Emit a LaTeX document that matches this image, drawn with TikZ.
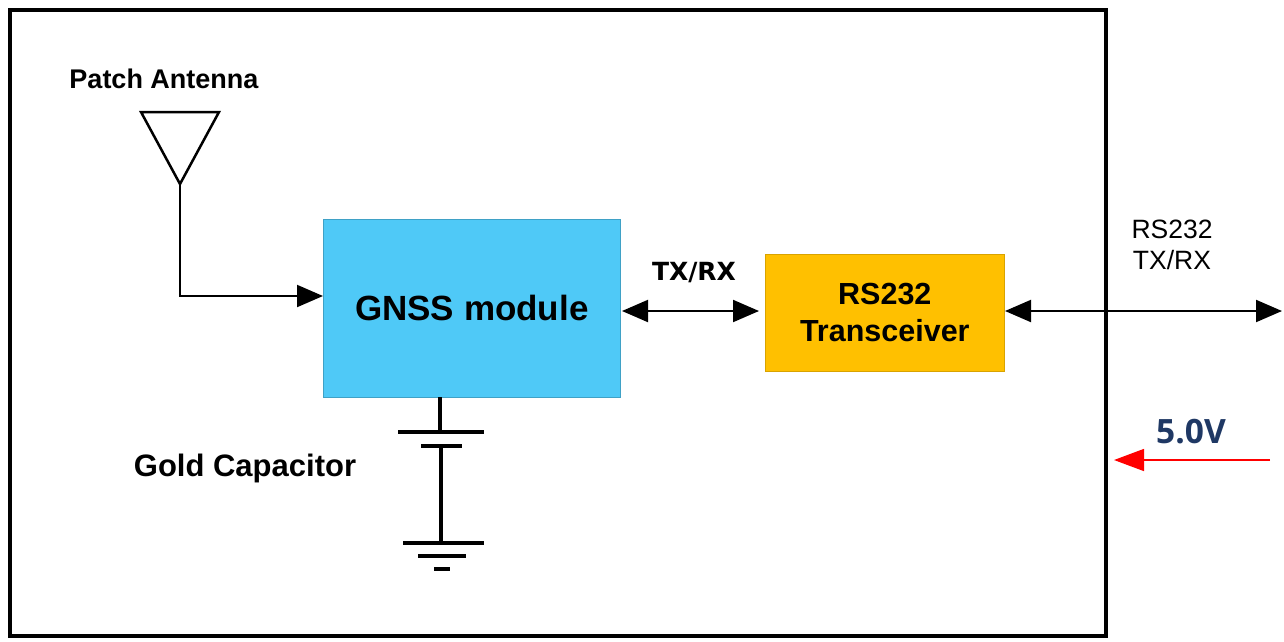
\documentclass[tikz,border=0pt]{standalone}
\usepackage{fontspec}
\setmainfont{Liberation Sans}
\newfontfamily\vfont{Open Sans}
\newfontfamily\wfont{DejaVu Sans}
\usetikzlibrary{arrows.meta}
\definecolor{gnssblue}{HTML}{4FC9F7}
\definecolor{rsgold}{HTML}{FFC000}
\definecolor{navy}{HTML}{1F3864}
\tikzset{
  wire/.style={line width=3.5pt,line cap=butt},
  sig/.style={line width=2pt,{Triangle[length=26pt,width=22pt]}-{Triangle[length=26pt,width=22pt]}},
  feed/.style={line width=2pt,-{Triangle[length=26pt,width=22pt]}},
  block/.style={inner sep=0pt,font=\bfseries},
  lbl/.style={inner sep=0pt,align=center}
}
\begin{document}
\begin{tikzpicture}[x=1pt,y=-1pt]
\useasboundingbox (0,0) rectangle (1284,641);
% outer frame
\draw[line width=4pt] (10,10) rectangle (1106,636);
% blocks
\node[block,fill=gnssblue,draw=gnssblue!80!black,line width=0.6pt,minimum width=297pt,minimum height=178pt,anchor=north west,font=\fontsize{35}{38}\selectfont\bfseries] (gnss) at (323,219) {GNSS module};
\node[block,fill=rsgold,draw=rsgold!85!black,line width=0.6pt,minimum width=239pt,minimum height=117pt,anchor=north west,align=center,font=\fontsize{30.5}{37}\selectfont\bfseries] (rs) at (765,254) {RS232\\Transceiver};
% antenna
\node[lbl,font=\fontsize{27}{30}\selectfont\bfseries] (antlbl) at (164,79) {Patch Antenna};
\coordinate (ta) at (141,112);
\coordinate (tb) at (219,112);
\coordinate (apex) at (180,184);
\draw[line width=2.5pt,line join=miter] (ta) -- (tb) -- (apex) -- cycle;
\coordinate (bend) at (180,296);
\draw[feed] (apex) -- (bend) -- (gnss.west |- bend);
% TX/RX link
\coordinate (l1) at (622,311);
\coordinate (l2) at (759,311);
\draw[sig] (l1) -- (l2);
\node[lbl,font=\wfont\fontsize{25}{28}\selectfont\bfseries] (txrx) at (694,273) {TX/RX};
% RS232 external link
\coordinate (r1) at (1005,311);
\coordinate (r2) at (1282,311);
\draw[sig] (r1) -- (r2);
\node[lbl,font=\fontsize{26.5}{31}\selectfont] (rstx) at (1172,245) {RS232\\TX/RX};
% 5.0V
\node[lbl,font=\vfont\fontsize{33.5}{36}\selectfont\bfseries,text=navy] (volt) at (1191,432) {5.0V};
\coordinate (p1) at (1270,460);
\coordinate (p2) at (1114,460);
\draw[red,line width=1.5pt,-{Triangle[length=30pt,width=22pt]}] (p1) -- (p2);
% capacitor
\coordinate (c0) at (440,397);
\coordinate (c1) at (440,432);
\draw[wire] (c0) -- (c1);
\draw[wire] (398,432) -- (484,432);
\draw[wire] (421,446) -- (462,446);
\draw[wire] (441,446) -- (441,543);
\draw[wire] (403,543) -- (484,543);
\draw[wire] (418,556) -- (466,556);
\draw[wire] (434,569) -- (450,569);
\node[lbl,font=\fontsize{31}{34}\selectfont\bfseries] (caplbl) at (245,468) {Gold Capacitor};
\end{tikzpicture}
\end{document}
